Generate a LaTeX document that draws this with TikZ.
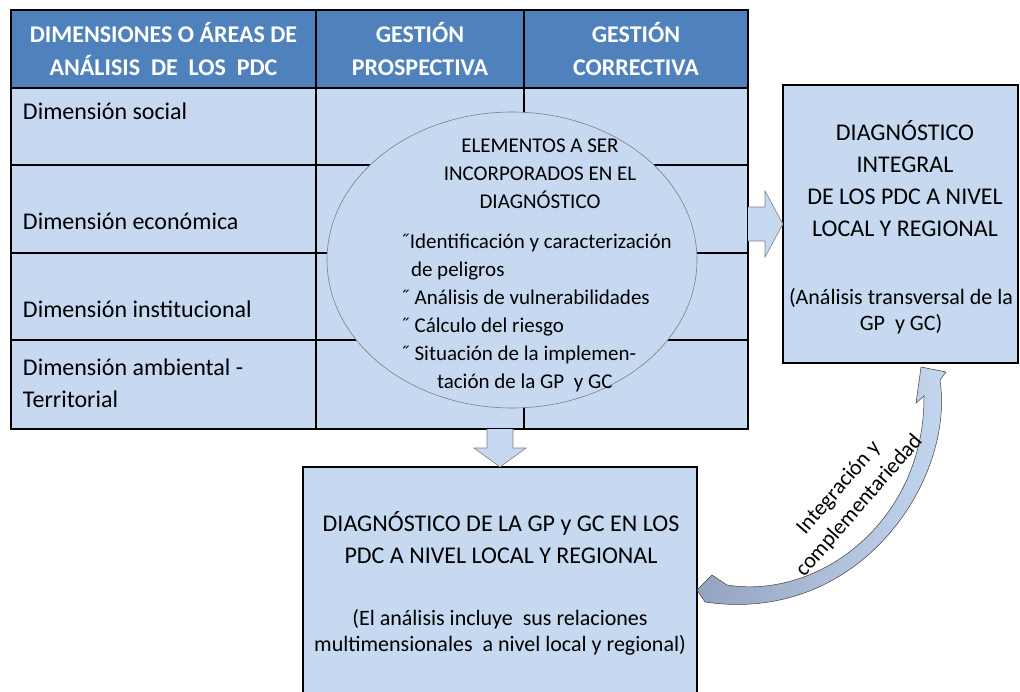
\documentclass[tikz,border=0pt]{standalone}
\usepackage{fontspec}
\setmainfont{Carlito}
\usepackage{tikz}
\usetikzlibrary{shapes.geometric,positioning,calc}
\definecolor{hdrblue}{HTML}{4F81BD}
\definecolor{cellblue}{HTML}{C6D9F1}
\definecolor{tailblue}{HTML}{93A3C0}
\definecolor{edgegray}{HTML}{7F7F7F}

\begin{document}
\begin{tikzpicture}[x=1pt,y=-1pt,every node/.append style={inner sep=0pt,outer sep=0pt},
                    bigtxt/.style={font=\fontsize{24}{32}\selectfont,align=center,anchor=north},
                    smalltxt/.style={font=\fontsize{22}{26}\selectfont,align=center,anchor=north},
                    elemtxt/.style={font=\fontsize{21}{28}\selectfont},
                    hdrtxt/.style={font=\fontsize{24}{33}\selectfont\bfseries,text=white,align=center},
                    rowtxt/.style={font=\fontsize{24}{32}\selectfont,anchor=base west,align=left},
                    box/.style={draw,line width=2pt,fill=cellblue},
                    blkarrow/.style={draw=edgegray,line width=.6pt,fill=cellblue}]
    \useasboundingbox (0,0) rectangle (1020,691);
    \node[box, minimum width=737pt, minimum height=419pt] (tbl) at (379.5,219.5) {};
    \fill[hdrblue] (11,10) rectangle (748,88);
    \begin{scope}[line width=2pt]
      \draw (316,10) -- (316,429);
      \draw (524,10) -- (524,429);
      \foreach \y in {88,165,253,340}
        \draw (11,\y) -- (748,\y);
      \draw (tbl.north west) rectangle (tbl.south east);
    \end{scope}
    \node[hdrtxt] (hdim) at (163.5,49.5) {DIMENSIONES O ÁREAS DE\\ANÁLISIS~ DE~ LOS~ PDC};
    \node[hdrtxt] (hgp) at (420,49.5) {GESTIÓN\\PROSPECTIVA};
    \node[hdrtxt] (hgc) at (636,49.5) {GESTIÓN\\CORRECTIVA};
    \foreach \y/\txt [count=\i] in {119/Dimensión social,229/Dimensión económica,317/Dimensión institucional}
      \node[rowtxt] (dim\i) at (23,\y) {\txt};
    \node[rowtxt, anchor=north west] (dim4) at (23,359) {Dimensión ambiental -\\Territorial};

    \node[ellipse, draw=edgegray, line width=.6pt, fill=cellblue,
          minimum width=370pt, minimum height=296pt] (elem) at (512,260) {};
    \node[elemtxt, align=center, anchor=north] (elemtit) at (540,139)
      {ELEMENTOS A SER\\INCORPORADOS EN EL\\DIAGNÓSTICO};
    \node[elemtxt, align=left, anchor=north west] (elemlist) at (400,234)
      {˝Identificación y caracterización\\\hspace*{11pt}de peligros\\˝ Análisis de vulnerabilidades\\
       ˝ Cálculo del riesgo\\˝ Situación de la implemen-\\\hspace*{37pt}tación de la GP~ y GC};

    \node[box, minimum width=235pt, minimum height=278pt] (integral) at (900.5,224) {};
    \node[bigtxt] (integraltxt) at (905,120) {DIAGNÓSTICO\\INTEGRAL\\DE LOS PDC A NIVEL\\LOCAL Y REGIONAL};
    \node[smalltxt] (integralnote) at (901,288) {(Análisis transversal de la\\GP~ y GC)};

    \node[box, minimum width=394pt, minimum height=246pt] (gpgc) at (500,590) {};
    \node[bigtxt] (gpgctxt) at (501,511) {DIAGNÓSTICO DE LA GP y GC EN LOS\\PDC A NIVEL LOCAL Y REGIONAL};
    \node[smalltxt] (gpgcnote) at (500,609) {(El análisis incluye~ sus relaciones\\multimensionales~ a nivel local y regional)};

    \draw[blkarrow] ($(integral.west)+(-35,-17)$) -- ($(integral.west)+(-18,-17)$) -- ($(integral.west)+(-18,-33)$)
      -- (integral.west) -- ($(integral.west)+(-18,33)$) -- ($(integral.west)+(-18,17)$) -- ($(integral.west)+(-35,17)$);
    \draw[blkarrow] ($(gpgc.north)+(-13,-38)$) -- ($(gpgc.north)+(-13,-19)$) -- ($(gpgc.north)+(-26,-19)$)
      -- (gpgc.north) -- ($(gpgc.north)+(26,-19)$) -- ($(gpgc.north)+(13,-19)$) -- ($(gpgc.north)+(13,-38)$);

    \draw[draw=black!75, line width=.5pt, left color=tailblue, right color=cellblue]
      (gpgc.east) -- (712,575) -- (727,585) .. controls (820,600) and (925,520) .. (924,396)
      -- (916,403) -- (921,367) -- (946,372) -- (940,380)
      .. controls (955,480) and (860,625) .. (705,602) -- cycle;
    \node[font=\fontsize{22}{27}\selectfont, rotate=49, align=center] (integ) at (849,497)
      {Integración y\\complementariedad};
\end{tikzpicture}
\end{document}
